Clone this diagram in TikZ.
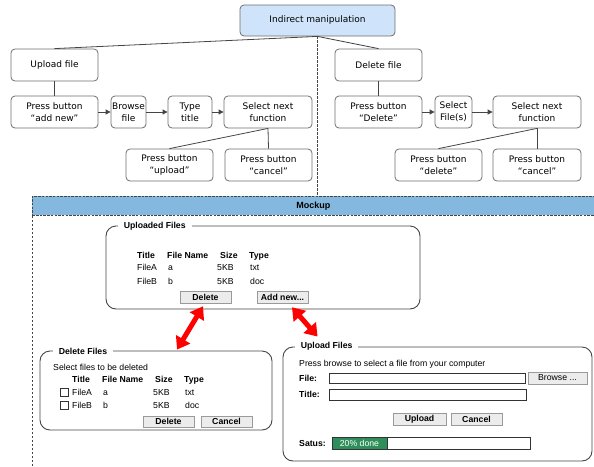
\documentclass[tikz,border=0pt]{standalone}
\usepackage{fontspec}
\setmainfont{DejaVu Sans}
\newfontfamily\uifont{Liberation Sans}
\usetikzlibrary{arrows.meta}

\definecolor{topblue}{HTML}{CFE4FA}
\definecolor{barblue}{HTML}{85B8DE}
\definecolor{edgegray}{HTML}{6E6E6E}
\definecolor{linegray}{HTML}{454545}
\definecolor{okgreen}{HTML}{2F8F5B}
\definecolor{btnfill}{HTML}{ECECEC}
\definecolor{btnedge}{HTML}{9A9A9A}

\tikzset{
  flow/.style={draw=edgegray, line width=0.8pt, rounded corners=4pt, fill=white,
    align=center, inner sep=0pt, minimum height=32pt,
    font=\fontsize{9}{11.7}\selectfont},
  rootbox/.style={flow, fill=topblue},
  link/.style={draw=linegray, line width=0.8pt},
  nextarrow/.style={link, -{Triangle[length=5pt,width=5pt]}},
  sepline/.style={draw=linegray, line width=0.7pt, dash pattern=on 2.5pt off 1.5pt},
  mockbar/.style={draw=linegray, fill=barblue, line width=0.7pt,
    dash pattern=on 2.5pt off 1.2pt, inner sep=0pt,
    font=\uifont\bfseries\fontsize{9}{11}\selectfont},
  group/.style={draw=linegray, line width=0.9pt, rounded corners=10pt, inner sep=0pt},
  grouptitle/.style={fill=white, inner xsep=6pt, inner ysep=1pt, anchor=west,
    font=\uifont\bfseries\fontsize{8.7}{10}\selectfont},
  ui/.style={inner sep=0pt, anchor=base west, font=\uifont\fontsize{8.7}{10}\selectfont},
  uib/.style={ui, font=\uifont\bfseries\fontsize{8.7}{10}\selectfont},
  button/.style={fill=btnfill, draw=btnedge, line width=0.6pt, inner sep=0pt,
    font=\uifont\bfseries\fontsize{8.7}{10}\selectfont},
  field/.style={draw=black!80, fill=white, line width=0.6pt, inner sep=0pt},
  checkbox/.style={draw=black!80, line width=0.6pt, minimum width=8pt,
    minimum height=8pt, inner sep=0pt},
  swaparrow/.style={draw=red, line width=5pt,
    {Triangle[length=12pt,width=16pt]}-{Triangle[length=12pt,width=16pt]}},
}

\begin{document}
\begin{tikzpicture}[x=1pt,y=-1pt]
\useasboundingbox (0,0) rectangle (594,466);

% ---------- task tree ----------
\node[rootbox, minimum width=155, minimum height=31] (root) at (317.5,20.5) {Indirect manipulation};

\node[flow, minimum width=87] (upl)    at (54.5,65)  {Upload file};
\node[flow, minimum width=87] (pbadd)  at (54.5,112) {Press button\\“add new”};
\node[flow, minimum width=35] (browse) at (128.5,112) {Browse\\file};
\node[flow, minimum width=44] (typet)  at (190,112)  {Type\\title};
\node[flow, minimum width=88] (nextA)  at (268,112)  {Select next\\function};
\node[flow, minimum width=87] (pbup)   at (169.5,165) {Press button\\“upload”};
\node[flow, minimum width=87] (pbcanA) at (268.5,165) {Press button\\“cancel”};

\node[flow, minimum width=87] (del)    at (378.5,65)  {Delete file};
\node[flow, minimum width=87] (pbdel)  at (378.5,112) {Press button\\“Delete”};
\node[flow, minimum width=37] (selfs)  at (453.5,112) {Select\\File(s)};
\node[flow, minimum width=88] (nextB)  at (537,112)   {Select next\\function};
\node[flow, minimum width=87] (pbdelB) at (438.5,165) {Press button\\“delete”};
\node[flow, minimum width=88] (pbcanB) at (537,165)   {Press button\\“cancel”};

\draw[link] (root.south) -- (upl.north);
\draw[link] (root.south) -- (del.north);
\draw[link] (upl.south) -- (pbadd.north);
\draw[link] (del.south) -- (pbdel.north);
\draw[nextarrow] (pbadd.east) -- (browse.west);
\draw[nextarrow] (browse.east) -- (typet.west);
\draw[nextarrow] (typet.east) -- (nextA.west);
\draw[nextarrow] (pbdel.east) -- (selfs.west);
\draw[nextarrow] (selfs.east) -- (nextB.west);
\draw[link] (nextA.south) -- (pbup.north);
\draw[link] (nextA.south) -- (pbcanA.north);
\draw[link] (nextB.south) -- (pbdelB.north);
\draw[link] (nextB.south) -- (pbcanB.north);

% ---------- mockup ----------
\node[mockbar, minimum width=570, minimum height=19, anchor=north west] (bar) at (32,196) {\hspace{-8pt}Mockup};
\draw[sepline] (root.south) -- (root.south |- bar.north);
\draw[sepline] (bar.south west) -- (32,470);

% uploaded files panel
\node[group, minimum width=314, minimum height=83] (upbox) at (263,267.5) {};
\node[grouptitle] (upttl) at ([xshift=12pt,yshift=-1pt]upbox.north west) {Uploaded Files};
\foreach \x/\t [count=\i] in {137/Title,167/File Name,220/Size,249/Type}
  \node[uib] (uh\i) at (\x,258) {\t};
\foreach \x/\t [count=\i] in {137/FileA,168/a,217/5KB,250/txt}
  \node[ui] (ua\i) at (\x,270) {\t};
\foreach \x/\t [count=\i] in {137/FileB,168/b,217/5KB,250/doc}
  \node[ui] (ub\i) at (\x,284) {\t};
\node[button, minimum width=51, minimum height=12] (delA) at (205.5,297) {Delete};
\node[button, minimum width=51, minimum height=12] (addA) at (282.5,297) {Add new...};

% delete files panel
\node[group, minimum width=232, minimum height=79] (dfbox) at (156,390.5) {};
\node[grouptitle] (dfttl) at ([xshift=13pt,yshift=-1pt]dfbox.north west) {Delete Files};
\node[ui] (dfhint) at (53,370) {Select files to be deleted};
\foreach \x/\t [count=\i] in {72/Title,102/File Name,155/Size,184/Type}
  \node[uib] (dh\i) at (\x,382) {\t};
\node[checkbox] (cbA) at (64,392) {};
\node[checkbox] (cbB) at (64,405) {};
\foreach \x/\t [count=\i] in {72/FileA,103/a,153/5KB,185/txt}
  \node[ui] (da\i) at (\x,395) {\t};
\foreach \x/\t [count=\i] in {72/FileB,103/b,153/5KB,185/doc}
  \node[ui] (db\i) at (\x,408) {\t};
\node[button, minimum width=51, minimum height=11] (delB) at (168.5,421.5) {Delete};
\node[button, minimum width=51, minimum height=11] (canB) at (226.5,421.5) {Cancel};

% upload files panel
\node[group, minimum width=309, minimum height=114] (ufbox) at (437.5,404) {};
\node[grouptitle] (ufttl) at ([xshift=12pt]ufbox.north west) {Upload Files};
\node[ui] (ufhint) at (299,366) {Press browse to select a file from your computer};
\node[uib] (lfile) at (299,381) {File:};
\node[field, minimum width=196, minimum height=10] (ffile) at (427,378) {};
\node[button, minimum width=59, minimum height=12, font=\uifont\fontsize{8.7}{10}\selectfont] (browseB) at (557.5,378) {Browse ...};
\node[uib] (ltitle) at (299,397) {Title:};
\node[field, minimum width=197, minimum height=11] (ftitle) at (427.5,394.5) {};
\node[button, minimum width=53, minimum height=12] (uplC) at (419.5,419) {Upload};
\node[button, minimum width=51, minimum height=12] (canC) at (476.5,419) {Cancel};
\node[uib] (lstat) at (299,446) {Satus:};
\node[field, minimum width=198, minimum height=12] (prog) at (431,443) {};
\node[draw=black!80, fill=okgreen, line width=0.6pt, minimum width=55, minimum height=12,
  inner sep=0pt, anchor=west, text=white, font=\uifont\fontsize{8.7}{10}\selectfont]
  (progdone) at (prog.west) {20\% done};

% links between the panels
\draw[swaparrow] ([xshift=-2.5pt,yshift=-3pt]delA.south) -- ([xshift=21pt,yshift=1pt]dfbox.north);
\draw[swaparrow] ([xshift=9.5pt,yshift=-4pt]addA.south) -- ([xshift=35pt,yshift=10pt]ufbox.north west);
\end{tikzpicture}
\end{document}
